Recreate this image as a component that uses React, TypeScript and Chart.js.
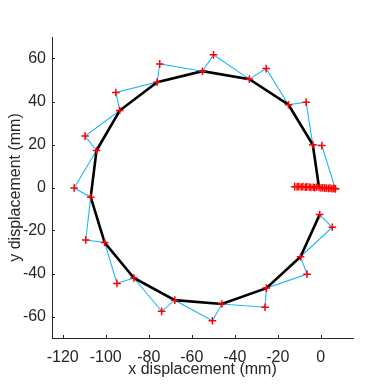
import React, { useEffect, useRef } from "react";
import { Chart, registerables } from "chart.js";

Chart.register(...registerables);

// Thick black trajectory (x, y in mm)
const blackX = [-0.5, -9.4, -25.3, -46.0, -67.9, -86.9, -100.5, -107.0, -104.3, -93.5, -76.1, -55.0, -33.2, -15.0, -3.7, -0.8];
const blackY = [-12.6, -32.2, -46.8, -54.2, -52.4, -42.1, -25.6, -4.5, 17.2, 35.8, 49.0, 54.1, 50.4, 38.5, 19.9, 0.0];

// Thin blue path through the measured points (x, y in mm)
const blueX = [-0.5, 5.4, -9.4, -6.4, -25.3, -25.9, -46.0, -50.4, -67.9, -74.0, -86.9, -94.8, -100.5, -109.3, -107.0, -114.7, -104.3, -109.6, -93.5, -95.3, -76.1, -74.9, -55.0, -49.9, -33.2, -25.4, -15.0, -6.8, -3.7, 0.5, 6.8];
const blueY = [-12.6, -18.5, -32.2, -40.3, -46.8, -55.7, -54.2, -62.0, -52.4, -57.6, -42.1, -44.6, -25.6, -24.4, -4.5, -0.2, 17.2, 23.9, 35.8, 44.2, 49.0, 57.5, 54.1, 61.7, 50.4, 55.3, 38.5, 39.7, 19.9, 19.5, -0.6];

// Cluster of red markers near the origin
const clusterX = [-12.1, -11.0, -10.2, -9.1, -8.3, -7.2, -6.5, -5.4, -4.6, -3.5, -2.8, -1.9, -0.8, 0.1, 0.9, 1.8, 2.6, 3.5, 4.3, 5.2, 6.0, 6.8];
const clusterY = [0.4, 0.3, 0.5, 0.2, 0.4, 0.1, 0.3, 0.2, 0.0, 0.1, -0.1, 0.2, 0.0, -0.2, -0.1, -0.3, -0.2, -0.4, -0.3, -0.5, -0.4, -0.6];

const xTicks = [-120, -100, -80, -60, -40, -20, 0];
const yTicks = [-60, -40, -20, 0, 20, 40, 60];
const xRange = [-125, 15];
const yRange = [-70, 70];

const axisColor = "#262626";
const fontFamily = "'Liberation Sans', Arial, Helvetica, sans-serif";

const inwardTicks = {
  id: "inwardTicks",
  afterDatasetsDraw(chart: any) {
    const { ctx, chartArea, scales } = chart;
    const len = 3;
    ctx.save();
    ctx.strokeStyle = axisColor;
    ctx.lineWidth = 1;
    ctx.beginPath();
    xTicks.forEach((v) => {
      const px = Math.round(scales.x.getPixelForValue(v)) + 0.5;
      ctx.moveTo(px, chartArea.bottom);
      ctx.lineTo(px, chartArea.bottom - len);
    });
    yTicks.forEach((v) => {
      const py = Math.round(scales.y.getPixelForValue(v)) + 0.5;
      ctx.moveTo(chartArea.left, py);
      ctx.lineTo(chartArea.left + len, py);
    });
    ctx.stroke();
    ctx.restore();
  },
};

const toPoints = (xs: number[], ys: number[]) => xs.map((x, i) => ({ x, y: ys[i] }));

export default function App() {
  const ref = useRef<HTMLCanvasElement>(null);
  useEffect(() => {
    document.body.style.margin = "0";
    const chart = new Chart(ref.current as HTMLCanvasElement, {
      type: "scatter",
      data: {
        datasets: [
          {
            data: [...toPoints(blueX, blueY), ...toPoints(clusterX, clusterY)],
            showLine: false,
            pointStyle: "cross",
            pointRadius: 3.8,
            pointBorderColor: "rgb(255,0,0)",
            pointBorderWidth: 1.5,
            pointBackgroundColor: "rgb(255,0,0)",
            order: 0,
          },
          {
            data: toPoints(blackX, blackY),
            showLine: true,
            borderColor: "#000000",
            borderWidth: 2.6,
            pointRadius: 0,
            order: 1,
          },
          {
            data: toPoints(blueX, blueY),
            showLine: true,
            borderColor: "rgb(30,182,252)",
            borderWidth: 1.1,
            pointRadius: 0,
            order: 2,
          },
        ],
      } as any,
      options: {
        animation: false,
        responsive: false,
        maintainAspectRatio: false,
        layout: { padding: { left: 0, right: 37, top: 37, bottom: 0 } },
        plugins: { legend: { display: false }, tooltip: { enabled: false } },
        scales: {
          x: {
            type: "linear",
            min: xRange[0],
            max: xRange[1],
            afterBuildTicks: (s: any) => {
              s.ticks = xTicks.map((v) => ({ value: v }));
            },
            afterFit: (s: any) => {
              s.height = 52;
            },
            grid: { display: true, drawOnChartArea: false, drawTicks: false },
            border: { display: true, color: axisColor, width: 1 },
            ticks: {
              color: axisColor,
              padding: 10,
              maxRotation: 0,
              autoSkip: false,
              font: { family: fontFamily, size: 16 },
            },
            title: {
              display: true,
              text: "x displacement (mm)",
              color: axisColor,
              font: { family: fontFamily, size: 16 },
              padding: { top: 0, bottom: 11 },
            },
          },
          y: {
            type: "linear",
            min: yRange[0],
            max: yRange[1],
            afterBuildTicks: (s: any) => {
              s.ticks = yTicks.map((v) => ({ value: v }));
            },
            afterFit: (s: any) => {
              s.width = 52;
            },
            grid: { display: true, drawOnChartArea: false, drawTicks: false },
            border: { display: true, color: axisColor, width: 1 },
            ticks: {
              color: axisColor,
              padding: 6,
              autoSkip: false,
              font: { family: fontFamily, size: 16 },
            },
            title: {
              display: true,
              text: "y displacement (mm)",
              color: axisColor,
              font: { family: fontFamily, size: 16 },
              padding: { top: 6, bottom: 0 },
            },
          },
        },
      } as any,
      plugins: [inwardTicks],
    });
    return () => chart.destroy();
  }, []);
  return (
    <div style={{ position: "absolute", left: 0, top: 0, width: 390, height: 390 }}>
      <canvas ref={ref} width={390} height={390} style={{ width: 390, height: 390 }} />
    </div>
  );
}
